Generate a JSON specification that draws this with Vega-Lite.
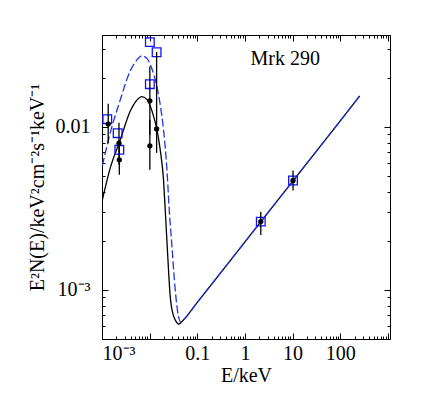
{
  "$schema": "https://vega.github.io/schema/vega-lite/v6.json",
  "width": 288,
  "height": 304,
  "autosize": {"type": "none"},
  "padding": {"left": 102, "top": 35, "right": 40, "bottom": 62},
  "background": "white",
  "config": {
    "view": {"stroke": "black", "strokeWidth": 1},
    "font": "Liberation Serif",
    "axis": {
      "grid": false,
      "domainColor": "black",
      "tickColor": "black",
      "labelColor": "black",
      "titleColor": "black",
      "labelFont": "Liberation Serif",
      "titleFont": "Liberation Serif",
      "labelFontSize": 20,
      "titleFontSize": 20,
      "titleFontWeight": "normal",
      "tickWidth": 1,
      "domainWidth": 1
    }
  },
  "datasets": {
    "black_model": [
      {"E": 0.001016, "F": 0.00356},
      {"E": 0.00149, "F": 0.0056},
      {"E": 0.00242, "F": 0.00832},
      {"E": 0.00392, "F": 0.01253},
      {"E": 0.00523, "F": 0.01445},
      {"E": 0.0069, "F": 0.01535},
      {"E": 0.00891, "F": 0.01465},
      {"E": 0.01135, "F": 0.01236},
      {"E": 0.01424, "F": 0.00959},
      {"E": 0.01668, "F": 0.00723},
      {"E": 0.01955, "F": 0.00473},
      {"E": 0.02122, "F": 0.0031},
      {"E": 0.02338, "F": 0.001845},
      {"E": 0.02703, "F": 0.00091},
      {"E": 0.03125, "F": 0.000703},
      {"E": 0.03442, "F": 0.000655},
      {"E": 0.04036, "F": 0.000618},
      {"E": 0.0501, "F": 0.00065},
      {"E": 0.1, "F": 0.000839},
      {"E": 1, "F": 0.00197},
      {"E": 10, "F": 0.00463},
      {"E": 100, "F": 0.01089},
      {"E": 256, "F": 0.0155}
    ],
    "blue_model": [
      {"E": 0.001016, "F": 0.00577},
      {"E": 0.00149, "F": 0.00919},
      {"E": 0.00242, "F": 0.01466},
      {"E": 0.00392, "F": 0.02208},
      {"E": 0.00523, "F": 0.02543},
      {"E": 0.0069, "F": 0.02729},
      {"E": 0.00891, "F": 0.02612},
      {"E": 0.01135, "F": 0.02239},
      {"E": 0.01424, "F": 0.01758},
      {"E": 0.01668, "F": 0.01364},
      {"E": 0.01955, "F": 0.00959},
      {"E": 0.02305, "F": 0.00545},
      {"E": 0.02576, "F": 0.0031},
      {"E": 0.02938, "F": 0.001845},
      {"E": 0.03442, "F": 0.001},
      {"E": 0.04036, "F": 0.000686},
      {"E": 0.0453, "F": 0.000635},
      {"E": 0.0501, "F": 0.00065},
      {"E": 0.1, "F": 0.000839},
      {"E": 1, "F": 0.00197},
      {"E": 10, "F": 0.00463},
      {"E": 100, "F": 0.01089},
      {"E": 256, "F": 0.0155}
    ],
    "black_pts": [
      {"E": 0.00135, "F": 0.0104, "lo": 0.00794, "hi": 0.01384},
      {"E": 0.00227, "F": 0.00794, "lo": 0.00585, "hi": 0.0106},
      {"E": 0.00231, "F": 0.00628, "lo": 0.00508, "hi": 0.00832},
      {"E": 0.0101, "F": 0.01444, "lo": 0.00893, "hi": 0.02344},
      {"E": 0.0101, "F": 0.00765, "lo": 0.00545, "hi": 0.01104},
      {"E": 0.014, "F": 0.00972, "lo": 0.00693, "hi": 0.0288},
      {"E": 2.15, "F": 0.002624, "lo": 0.00217, "hi": 0.00302},
      {"E": 10.2, "F": 0.00469, "lo": 0.00407, "hi": 0.0054}
    ],
    "blue_pts": [
      {"E": 0.00129, "F": 0.01115},
      {"E": 0.00213, "F": 0.00915},
      {"E": 0.00231, "F": 0.00723},
      {"E": 0.0101, "F": 0.0331},
      {"E": 0.014, "F": 0.0287},
      {"E": 0.0101, "F": 0.01828},
      {"E": 2.15, "F": 0.002624},
      {"E": 10.2, "F": 0.00469}
    ],
    "label": [
      {"E": 7.0, "F": 0.0261, "text": "Mrk 290"}
    ]
  },
  "resolve": {"axis": {"x": "independent", "y": "independent"}},
  "layer": [
    {
      "data": {"name": "black_model"},
      "mark": {"type": "line", "color": "black", "strokeWidth": 1.3, "interpolate": "monotone", "clip": true},
      "encoding": {
        "x": {"field": "E", "type": "quantitative", "scale": {"type": "log", "domain": [0.001, 1106], "nice": false},
          "axis": {"orient": "bottom", "values": [0.001, 0.01, 0.1, 1, 10, 100, 1000], "tickSize": -6, "labelPadding": 10, "labelFlush": true,
            "labelExpr": "datum.value < 0.005 ? '10⁻³' : datum.value < 0.05 ? '' : datum.value < 0.5 ? '0.1' : datum.value < 5 ? '1' : datum.value < 50 ? '10' : datum.value < 500 ? '100' : ''",
            "title": "E/keV", "titlePadding": 2}},
        "y": {"field": "F", "type": "quantitative", "scale": {"type": "log", "domain": [0.0005, 0.0366], "nice": false},
          "axis": {"orient": "left", "values": [0.001, 0.01], "tickSize": -6, "labelPadding": 18,
            "labelExpr": "datum.value < 0.005 ? '10⁻³' : '0.01'",
            "title": "E²N(E)/keV²cm⁻²s⁻¹keV⁻¹", "titlePadding": 8}}
      }
    },
    {
      "data": {"name": "blue_model"},
      "mark": {"type": "line", "color": "#2036e6", "strokeWidth": 1.3, "strokeDash": [8, 3], "interpolate": "monotone", "clip": true},
      "encoding": {
        "x": {"field": "E", "type": "quantitative", "scale": {"type": "log", "domain": [0.001, 1106], "nice": false},
          "axis": {"orient": "bottom", "values": [0.002, 0.003, 0.004, 0.005, 0.006, 0.007, 0.008, 0.009, 0.02, 0.03, 0.04, 0.05, 0.06, 0.07, 0.08, 0.09, 0.2, 0.3, 0.4, 0.5, 0.6, 0.7, 0.8, 0.9, 2, 3, 4, 5, 6, 7, 8, 9, 20, 30, 40, 50, 60, 70, 80, 90, 200, 300, 400, 500, 600, 700, 800, 900],
            "tickSize": -3, "labels": false, "title": null, "domain": false}},
        "y": {"field": "F", "type": "quantitative", "scale": {"type": "log", "domain": [0.0005, 0.0366], "nice": false},
          "axis": {"orient": "left", "values": [0.0006, 0.0007, 0.0008, 0.0009, 0.002, 0.003, 0.004, 0.005, 0.006, 0.007, 0.008, 0.009, 0.02, 0.03],
            "tickSize": -3, "labels": false, "title": null, "domain": false}}
      }
    },
    {
      "data": {"name": "blue_pts"},
      "mark": {"type": "point", "shape": "square", "filled": false, "color": "#1010ff", "size": 75, "strokeWidth": 1.3, "opacity": 1},
      "encoding": {
        "x": {"field": "E", "type": "quantitative", "scale": {"type": "log", "domain": [0.001, 1106], "nice": false},
          "axis": {"orient": "top", "values": [0.001, 0.01, 0.1, 1, 10, 100, 1000], "tickSize": -6, "labels": false, "title": null}},
        "y": {"field": "F", "type": "quantitative", "scale": {"type": "log", "domain": [0.0005, 0.0366], "nice": false},
          "axis": {"orient": "right", "values": [0.001, 0.01], "tickSize": -6, "labels": false, "title": null}}
      }
    },
    {
      "data": {"name": "black_pts"},
      "mark": {"type": "rule", "color": "black", "strokeWidth": 1.3},
      "encoding": {
        "x": {"field": "E", "type": "quantitative", "scale": {"type": "log", "domain": [0.001, 1106], "nice": false},
          "axis": {"orient": "top", "values": [0.002, 0.003, 0.004, 0.005, 0.006, 0.007, 0.008, 0.009, 0.02, 0.03, 0.04, 0.05, 0.06, 0.07, 0.08, 0.09, 0.2, 0.3, 0.4, 0.5, 0.6, 0.7, 0.8, 0.9, 2, 3, 4, 5, 6, 7, 8, 9, 20, 30, 40, 50, 60, 70, 80, 90, 200, 300, 400, 500, 600, 700, 800, 900],
            "tickSize": -3, "labels": false, "title": null, "domain": false}},
        "y": {"field": "lo", "type": "quantitative", "scale": {"type": "log", "domain": [0.0005, 0.0366], "nice": false},
          "axis": {"orient": "right", "values": [0.0006, 0.0007, 0.0008, 0.0009, 0.002, 0.003, 0.004, 0.005, 0.006, 0.007, 0.008, 0.009, 0.02, 0.03],
            "tickSize": -3, "labels": false, "title": null, "domain": false}},
        "y2": {"field": "hi"}
      }
    },
    {
      "data": {"name": "black_pts"},
      "mark": {"type": "point", "shape": "circle", "filled": true, "color": "black", "size": 28, "opacity": 1},
      "encoding": {
        "x": {"field": "E", "type": "quantitative", "scale": {"type": "log", "domain": [0.001, 1106], "nice": false}, "axis": null},
        "y": {"field": "F", "type": "quantitative", "scale": {"type": "log", "domain": [0.0005, 0.0366], "nice": false}, "axis": null}
      }
    },
    {
      "data": {"name": "label"},
      "mark": {"type": "text", "font": "Liberation Serif", "fontSize": 20, "color": "black", "align": "center", "baseline": "middle"},
      "encoding": {
        "x": {"field": "E", "type": "quantitative", "scale": {"type": "log", "domain": [0.001, 1106], "nice": false}, "axis": null},
        "y": {"field": "F", "type": "quantitative", "scale": {"type": "log", "domain": [0.0005, 0.0366], "nice": false}, "axis": null},
        "text": {"field": "text"}
      }
    }
  ]
}
